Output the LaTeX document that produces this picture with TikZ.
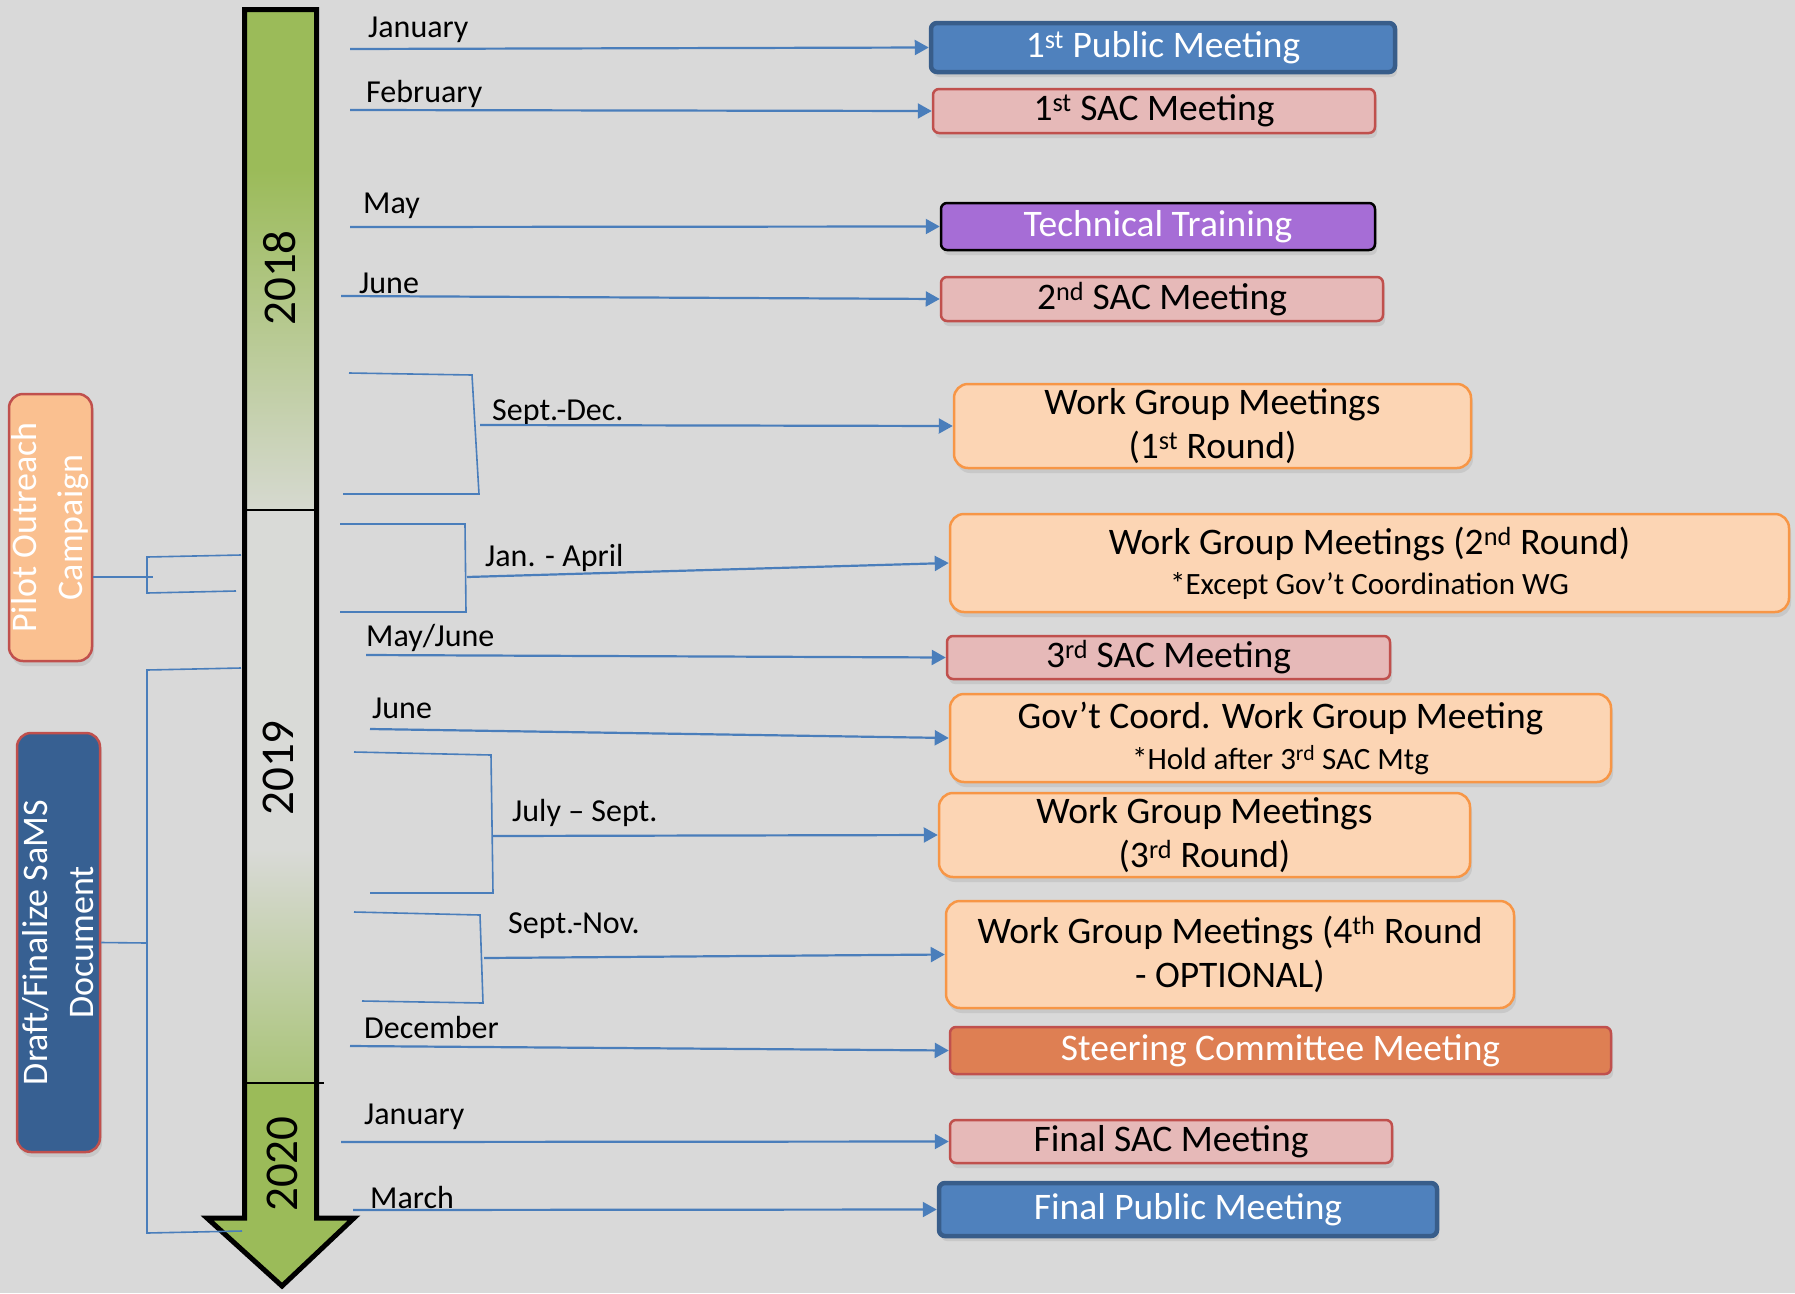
\documentclass[tikz,border=0pt]{standalone}
\usepackage{fontspec}
\setmainfont{Carlito}
\usetikzlibrary{arrows.meta,shadows}
\definecolor{backgray}{HTML}{D9D9D9}
\definecolor{lineblue}{HTML}{4A7EBB}
\definecolor{pubfill}{HTML}{4F81BD}
\definecolor{pubedge}{HTML}{385D8A}
\definecolor{sacfill}{HTML}{E6B9B8}
\definecolor{sacedge}{HTML}{C0504D}
\definecolor{trainfill}{HTML}{A66DD6}
\definecolor{wgfill}{HTML}{FCD5B4}
\definecolor{wgedge}{HTML}{F79646}
\definecolor{steerfill}{HTML}{DE7F53}
\definecolor{pilotfill}{HTML}{FAC090}
\definecolor{draftfill}{HTML}{376092}
\definecolor{agreen}{HTML}{9BBB59}
\definecolor{amid}{HTML}{B7CB90}
\definecolor{afade}{HTML}{D6D9D0}
\definecolor{agray}{HTML}{D9DAD7}
\definecolor{alight}{HTML}{AAC479}
\newcommand{\subline}[1]{{\fontsize{31}{37}\selectfont #1}}
\begin{document}
\begin{tikzpicture}[x=1pt,y=-1pt,
    month/.style={anchor=west,inner sep=0pt,font=\fontsize{32}{38}\selectfont},
    event/.style={rounded corners=6pt,line width=2.5pt,inner sep=0pt,align=center,
      font=\fontsize{37.5}{44}\selectfont,
      drop shadow={shadow xshift=2pt,shadow yshift=-5pt,opacity=.18}},
    public/.style={event,draw=pubedge,fill=pubfill,text=white,line width=4.5pt},
    sac/.style={event,draw=sacedge,fill=sacfill},
    training/.style={event,draw=black,fill=trainfill,text=white},
    wgroup/.style={event,draw=wgedge,fill=wgfill,rounded corners=14pt},
    steering/.style={event,draw=sacedge,fill=steerfill,text=white},
    side/.style={rotate=90,rounded corners=14pt,line width=2.5pt,inner sep=0pt,
      align=center,text=white,draw=sacedge,font=\fontsize{36}{46}\selectfont,
      drop shadow={shadow xshift=2pt,shadow yshift=-5pt,opacity=.18}},
    year/.style={rotate=90,inner sep=0pt,font=\fontsize{47}{56}\selectfont}]

  \fill[backgray] (0,0) rectangle (1795,1293);
  \useasboundingbox (0,0) rectangle (1795,1293);

  % timeline arrow
  \fill[agreen] (246,9) rectangle (316,170);
  \shade[top color=agreen,middle color=amid,bottom color=afade] (246,169) rectangle (316,510);
  \fill[agray] (246,510) rectangle (316,850);
  \shade[top color=agray,bottom color=alight] (246,849) rectangle (316,1083);
  \fill[agreen] (246,1083) -- (316,1083) -- (316,1218) -- (354,1218) -- (282,1286)
    -- (207,1218) -- (246,1218) -- cycle;
  \draw[line width=5pt,line join=miter] (244.5,9.5) -- (316.5,9.5) -- (316.5,1218)
    -- (354,1218) -- (282,1286) -- (207,1218) -- (244.5,1218) -- cycle;
  \draw[line width=2.5pt] (244,510) -- (318,510);
  \draw[line width=2.5pt] (244,1083) -- (324,1083);

  \node[year] (y18) at (280,278) {2018};
  \node[year] (y19) at (278,768) {2019};
  \node[year] (y20) at (282,1164) {2020};

  % events
  \node[public,minimum width=464pt,minimum height=49pt] (pub1) at (1163,47.5) {1\textsuperscript{st} Public Meeting};
  \node[sac,minimum width=442pt,minimum height=44pt] (sac1) at (1154,111) {1\textsuperscript{st} SAC Meeting};
  \node[training,minimum width=434pt,minimum height=47pt] (train) at (1158,226.5) {Technical Training};
  \node[sac,minimum width=442pt,minimum height=44pt] (sac2) at (1162,299) {2\textsuperscript{nd} SAC Meeting};
  \node[wgroup,minimum width=517pt,minimum height=84pt] (wg1) at (1212.5,426) {Work Group Meetings\\(1\textsuperscript{st} Round)};
  \node[wgroup,minimum width=839pt,minimum height=98pt] (wg2) at (1369.5,563) {Work Group Meetings (2\textsuperscript{nd} Round)\\[-4pt]\subline{*Except Gov’t Coordination WG}};
  \node[sac,minimum width=443pt,minimum height=43pt] (sac3) at (1168.5,657.5) {3\textsuperscript{rd} SAC Meeting};
  \node[wgroup,minimum width=661pt,minimum height=88pt] (govwg) at (1280.5,738) {Gov’t Coord. Work Group Meeting\\[-3pt]\subline{*Hold after 3\textsuperscript{rd} SAC Mtg}};
  \node[wgroup,minimum width=531pt,minimum height=84pt] (wg3) at (1204.5,835) {Work Group Meetings\\(3\textsuperscript{rd} Round)};
  \node[wgroup,minimum width=568pt,minimum height=107pt] (wg4) at (1230,954.5) {Work Group Meetings (4\textsuperscript{th} Round\\- OPTIONAL)};
  \node[steering,minimum width=661pt,minimum height=47pt] (steer) at (1280.5,1050.5) {Steering Committee Meeting};
  \node[sac,minimum width=442pt,minimum height=43pt] (sacf) at (1171,1141.5) {Final SAC Meeting};
  \node[public,minimum width=498pt,minimum height=53pt] (pubf) at (1188,1209.5) {Final Public Meeting};

  \node[side,fill=pilotfill,minimum width=267pt,minimum height=83pt] (pilot) at (50.5,527.5) {Pilot Outreach\\Campaign};
  \node[side,fill=draftfill,minimum width=419pt,minimum height=83pt] (draft) at (58.5,942.5) {Draft/Finalize SaMS\\Document};

  % month labels
  \path
    (368,30) node[month] (jan18){January}
    (366,94) node[month] (feb18){February}
    (363,206) node[month] (may18){May}
    (359,283) node[month] (jun18){June}
    (492,413) node[month] (sepdec){Sept.-Dec.}
    (485,558) node[month] (janapr){Jan. - April}
    (366,638) node[month] (mayjun){May/June}
    (372,708) node[month] (jun19){June}
    (512,813) node[month] (julsep){July – Sept.}
    (508,926) node[month] (sepnov){Sept.-Nov.}
    (364,1027) node[month] (dec19){December}
    (364,1117) node[month] (jan20){January}
    (370,1197) node[month] (mar20){March};

  % line ends
  \path
    (350,49) coordinate (j1)
    (350,110) coordinate (f1)
    (350,227) coordinate (m1)
    (341,296) coordinate (u1)
    (480,425) coordinate (sd0)
    (467,577) coordinate (ja0)
    (366,655) coordinate (mj1)
    (370,729) coordinate (ju1)
    (493,836) coordinate (js0)
    (484,958) coordinate (sn0)
    (350,1046) coordinate (d1)
    (341,1142) coordinate (ja1)
    (353,1210) coordinate (mr1);
  \path
    (349,373) coordinate (sd1) (472,375) coordinate (sd2) (479,494) coordinate (sd3) (343,494) coordinate (sd4)
    (340,524) coordinate (ja2) (465,524) coordinate (ja3) (466,612) coordinate (ja4) (340,612) coordinate (ja5)
    (354,752) coordinate (js1) (491,755) coordinate (js2) (493,893) coordinate (js3) (370,893) coordinate (js4)
    (354,912) coordinate (sn1) (480,915) coordinate (sn2) (483,1003) coordinate (sn3) (362,1001) coordinate (sn4)
    (241,555) coordinate (po1) (147,557) coordinate (po2) (147,593) coordinate (po3) (236,591) coordinate (po4)
    (153,577) coordinate (po0)
    (241,668) coordinate (dr1) (147,670) coordinate (dr2) (147,1233) coordinate (dr3) (242,1231) coordinate (dr4)
    (147,943) coordinate (dr0);

  \begin{scope}[lineblue,line width=2.2pt,-{Triangle[length=14pt,width=15pt]}]
    \draw (j1) to (pub1.west);
    \draw (f1) to (sac1.west);
    \draw (m1) to (train.west);
    \draw (u1) to (sac2.west);
    \draw (sd0) to (wg1.west);
    \draw (ja0) to (wg2.west);
    \draw (mj1) to (sac3.west);
    \draw (ju1) to (govwg.west);
    \draw (js0) to (wg3.west);
    \draw (sn0) to (wg4.west);
    \draw (d1) to (steer.west);
    \draw (ja1) to (sacf.west);
    \draw (mr1) to (pubf.west);
  \end{scope}
  \begin{scope}[lineblue,line width=1.6pt]
    \draw (sd1) -- (sd2) -- (sd3) -- (sd4);
    \draw (ja2) -- (ja3) -- (ja4) -- (ja5);
    \draw (js1) -- (js2) -- (js3) -- (js4);
    \draw (sn1) -- (sn2) -- (sn3) -- (sn4);
    \draw (po1) -- (po2) -- (po3) -- (po4);
    \draw (pilot.south |- po0) -- (po0);
    \draw (dr1) -- (dr2) -- (dr3) -- (dr4);
    \draw (draft.south) -- (dr0);
  \end{scope}
\end{tikzpicture}
\end{document}
